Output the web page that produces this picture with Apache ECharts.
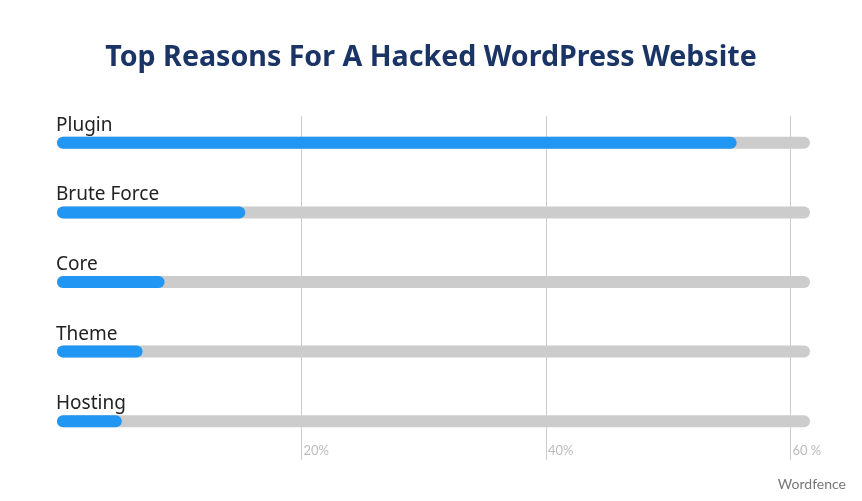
<!DOCTYPE html>
<html>
<head>
<meta charset="utf-8">
<script src="https://cdn.jsdelivr.net/npm/echarts@6/dist/echarts.min.js"></script>
<style>html,body{margin:0;padding:0;background:#fff;}#chart{width:862px;height:501px;}</style>
</head>
<body>
<div id="chart"></div>
<script>
const categories = ['Plugin', 'Brute Force', 'Core', 'Theme', 'Hosting'];
const values = [55.6, 15.4, 8.8, 7.0, 5.3];
const axisMax = 61.6;
const tickValues = [20, 40, 60];
const tickLabels = ['20%', '40%', '60 %'];

const chart = echarts.init(document.getElementById('chart'));
chart.setOption({
  backgroundColor: '#ffffff',
  animation: false,
  title: [
    {
      text: 'Top Reasons For A Hacked WordPress Website',
      left: 'center', top: 38,
      textStyle: { fontFamily: 'Noto Sans', fontWeight: 'bold', fontSize: 28.6, color: '#1b3466' }
    },
    {
      text: 'Wordfence',
      right: 11, top: 472,
      textStyle: { fontFamily: 'Lato', fontWeight: 'normal', fontSize: 14, color: '#777777' }
    }
  ],
  grid: [
    { left: 57, right: 52, top: 108, bottom: 45 },
    { left: 57, right: 52, top: 116, bottom: 41 }
  ],
  xAxis: [
    { gridIndex: 0, type: 'value', min: 0, max: axisMax, show: false },
    {
      gridIndex: 1, type: 'value', min: 0, max: axisMax, interval: 20,
      axisLine: { show: false }, axisTick: { show: false },
      splitLine: { show: true, showMinLine: false, showMaxLine: false, lineStyle: { color: '#cccccc', width: 1 } },
      axisLabel: {
        inside: true, align: 'left', verticalAlign: 'bottom', margin: 3, padding: [0, 0, 0, 2],
        fontFamily: 'Lato', fontSize: 13, color: '#bbbbbb',
        formatter: function (v) { const i = tickValues.indexOf(v); return i >= 0 ? tickLabels[i] : ''; }
      }
    }
  ],
  yAxis: [
    { gridIndex: 0, type: 'category', data: categories, inverse: true, show: false },
    { gridIndex: 1, type: 'value', min: 0, max: 1, show: false }
  ],
  series: [
    {
      type: 'bar', xAxisIndex: 0, yAxisIndex: 0,
      data: values, barWidth: 12,
      itemStyle: { color: '#2196f3', borderRadius: 6 },
      showBackground: true,
      backgroundStyle: { color: '#cccccc', borderRadius: 6 },
      label: {
        show: true, position: [-1, -2], align: 'left', verticalAlign: 'bottom',
        formatter: '{b}', fontFamily: 'Noto Sans', fontSize: 19, color: '#222222'
      },
      z: 3
    }
  ]
});
</script>
</body>
</html>
